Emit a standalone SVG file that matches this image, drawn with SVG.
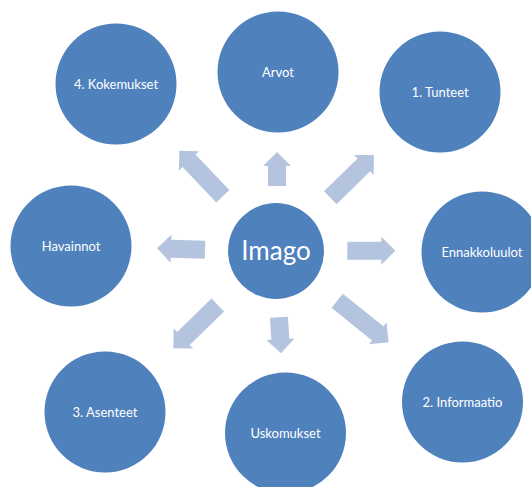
<svg xmlns="http://www.w3.org/2000/svg" width="531" height="487" viewBox="0 0 531 487">
<style>
.node{fill:#4f81bd}
.lbl{fill:#ffffff;font-family:Lato,"Open Sans","Liberation Sans",sans-serif;font-size:13px;text-anchor:middle}
.big{font-size:26px}
.arr{fill:#b4c4df}
</style>
<rect width="531" height="487" fill="#ffffff"/>
<g id="connectors">
<path class="arr" d="M0,-9 H20 V-14 L34,0 L20,14 V9 H0 Z" transform="translate(277,186) rotate(-90)"/>
<path class="arr" d="M0,-9 H49 V-14 L63,0 L49,14 V9 H0 Z" transform="translate(222.8,196.3) rotate(-133.6)"/>
<path class="arr" d="M0,-9 H47 V-14 L61,0 L47,14 V9 H0 Z" transform="translate(330.3,197.8) rotate(-44.4)"/>
<path class="arr" d="M0,-9 H34 V-14 L48,0 L34,14 V9 H0 Z" transform="translate(205,249.7) rotate(181.7)"/>
<path class="arr" d="M0,-9 H34 V-14 L48,0 L34,14 V9 H0 Z" transform="translate(347.3,250.8) rotate(0)"/>
<path class="arr" d="M0,-9 H48 V-14 L62,0 L48,14 V9 H0 Z" transform="translate(217.8,305) rotate(135.8)"/>
<path class="arr" d="M0,-9 H22 V-14 L36,0 L22,14 V9 H0 Z" transform="translate(279,317.3) rotate(86.7)"/>
<path class="arr" d="M0,-9 H52 V-14 L66,0 L52,14 V9 H0 Z" transform="translate(337.2,300.8) rotate(38.8)"/>
</g>
<g id="imago"><circle class="node" cx="276" cy="251" r="48"/><text class="lbl big" x="276" y="260">Imago</text></g>
<g id="kokemukset"><circle class="node" cx="116" cy="84" r="60.5"/><text class="lbl" x="116" y="89">4. Kokemukset</text></g>
<g id="arvot"><circle class="node" cx="278" cy="72" r="60.5"/><text class="lbl" x="278" y="77">Arvot</text></g>
<g id="tunteet"><circle class="node" cx="440" cy="92" r="60.5"/><text class="lbl" x="440" y="97">1. Tunteet</text></g>
<g id="havainnot"><circle class="node" cx="71" cy="246" r="60.5"/><text class="lbl" x="71" y="251">Havainnot</text></g>
<g id="ennakkoluulot"><circle class="node" cx="482" cy="252" r="60.5"/><text class="lbl" x="482" y="257">Ennakkoluulot</text></g>
<g id="asenteet"><circle class="node" cx="105" cy="412" r="60.5"/><text class="lbl" x="105" y="417">3. Asenteet</text></g>
<g id="uskomukset"><circle class="node" cx="285.5" cy="433" r="60.5"/><text class="lbl" x="285.5" y="438">Uskomukset</text></g>
<g id="informaatio"><circle class="node" cx="462.5" cy="402" r="60.5"/><text class="lbl" x="462.5" y="407">2. Informaatio</text></g>
</svg>
